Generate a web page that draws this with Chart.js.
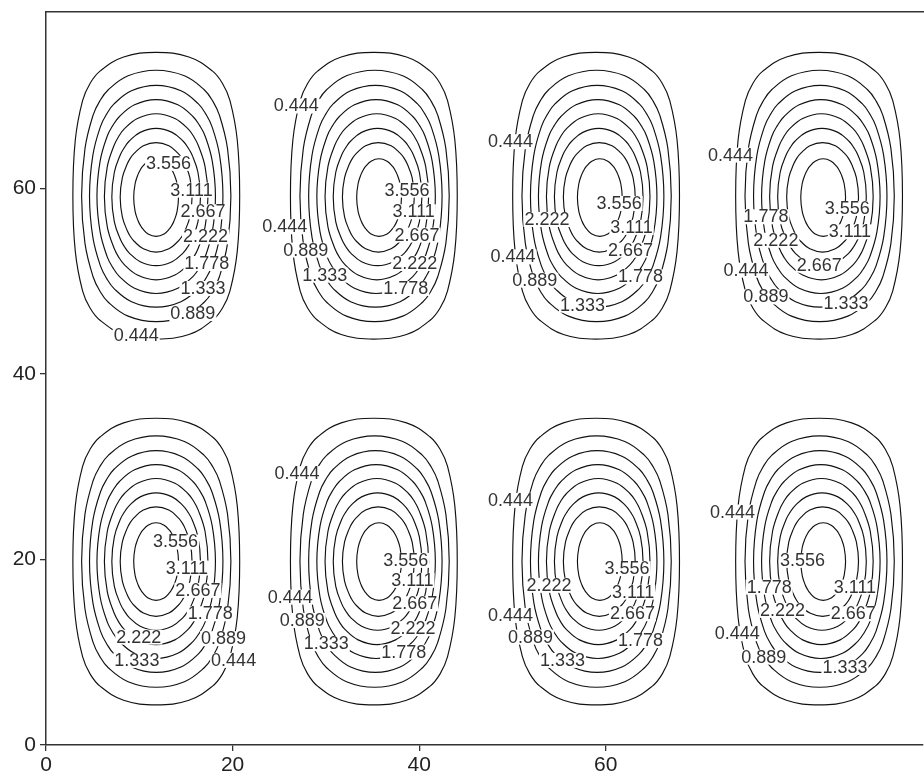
<!DOCTYPE html>
<html>
<head>
<meta charset="utf-8">
<script src="https://cdn.jsdelivr.net/npm/chart.js@4.4.1/dist/chart.umd.min.js"></script>
<style>
  html, body { margin: 0; padding: 0; background: #fff; }
  #wrap { width: 924px; height: 776px; }
</style>
</head>
<body>
<div id="wrap"><canvas id="contour" width="924" height="776"></canvas></div>
<script>
// one quadrant of each closed contour, as offsets from its centre: from (right, mid) to (mid, top)
const ring0444 = [[8.94, 0], [8.68, 6.0], [7.9, 10.25], [7.1, 12.1], [6.0, 13.45], [3.5, 14.95], [0, 15.45]]
const ring0889 = [[8.00, 0], [7.64, 5.11], [6.78, 8.68], [6.06, 10.22], [5.14, 11.45], [3.02, 12.95], [0, 13.55]]
const ring1333 = [[7.15, 0], [6.79, 4.43], [5.97, 7.53], [5.32, 8.85], [4.52, 9.95], [2.65, 11.36], [0, 11.95]]
const ring1778 = [[6.35, 0], [6.01, 3.82], [5.25, 6.50], [4.66, 7.64], [3.96, 8.60], [2.32, 9.89], [0, 10.45]]
const ring2222 = [[5.55, 0], [5.24, 3.24], [4.52, 5.52], [4.02, 6.50], [3.42, 7.31], [2.01, 8.44], [0, 8.95]]
const ring2667 = [[4.75, 0], [4.48, 2.67], [3.85, 4.53], [3.41, 5.33], [2.90, 6.01], [1.71, 6.97], [0, 7.40]]
const ring3111 = [[3.85, 0], [3.62, 2.11], [3.10, 3.58], [2.76, 4.22], [2.33, 4.76], [1.37, 5.55], [0, 5.90]]
const ring3556 = [[2.40, 0], [2.25, 1.49], [1.92, 2.53], [1.70, 2.97], [1.45, 3.35], [0.86, 3.92], [0, 4.18]]
const rings = [ring0444, ring0889, ring1333, ring1778, ring2222, ring2667, ring3111, ring3556]

// cell centres: outermost ring and innermost ring (the peak sits a little off centre)
const outerX = [11.82, 35.14, 58.96, 82.86]
const innerX = [11.8, 35.7, 59.36, 83.3]
const outerY = [19.77, 59.2]
const innerY = [19.77, 59.0]
// how far each ring's centre has moved from the outer centre toward the inner one
const ringShift = [0, 0.14, 0.29, 0.43, 0.57, 0.71, 0.86, 1]

const xTicks = [0, 20, 40, 60]
const yTicks = [0, 20, 40, 60]

// inline contour labels
const labelText = [
  // top row
  "3.556", "3.111", "2.667", "2.222", "1.778", "1.333", "0.889", "0.444",
  "0.444", "3.556", "3.111", "0.444", "2.667", "0.889", "2.222", "1.333", "1.778",
  "0.444", "3.556", "2.222", "3.111", "0.444", "2.667", "0.889", "1.778", "1.333",
  "0.444", "3.556", "1.778", "3.111", "2.222", "2.667", "0.444", "0.889", "1.333",
  // bottom row
  "3.556", "3.111", "2.667", "1.778", "2.222", "0.889", "1.333", "0.444",
  "0.444", "3.556", "3.111", "0.444", "2.667", "0.889", "2.222", "1.333", "1.778",
  "0.444", "3.556", "2.222", "3.111", "0.444", "2.667", "0.889", "1.778", "1.333",
  "0.444", "3.556", "1.778", "3.111", "2.222", "2.667", "0.444", "0.889", "1.333"
]
const labelX = [
  13.14, 15.60, 16.82, 17.10, 17.24, 16.82, 15.74, 9.67,
  26.83, 38.69, 39.41, 25.58, 39.76, 27.83, 39.52, 29.87, 38.55,
  49.78, 61.43, 53.70, 62.76, 50.06, 62.65, 52.39, 63.72, 57.50,
  73.37, 85.88, 77.16, 86.17, 78.23, 82.88, 75.03, 77.16, 85.74,
  13.89, 15.10, 16.28, 17.61, 9.95, 19.03, 9.74, 20.11,
  26.90, 38.55, 39.27, 26.19, 39.52, 27.47, 39.34, 30.05, 38.34,
  49.78, 62.28, 53.92, 62.93, 49.78, 62.86, 51.92, 63.72, 55.36,
  73.59, 81.09, 77.51, 86.70, 78.95, 86.52, 74.08, 76.94, 85.63
]
const labelY = [
  62.74, 59.86, 57.52, 54.82, 51.95, 49.26, 46.56, 44.22,
  68.92, 59.86, 57.52, 55.90, 55.01, 53.39, 51.95, 50.69, 49.26,
  65.07, 58.42, 56.69, 55.84, 52.66, 53.39, 50.15, 50.51, 47.46,
  63.63, 57.88, 56.98, 55.36, 54.45, 51.76, 51.23, 48.35, 47.64,
  21.93, 19.12, 16.72, 14.20, 11.68, 11.51, 9.17, 9.17,
  29.30, 19.95, 17.80, 15.99, 15.28, 13.48, 12.59, 10.97, 10.06,
  26.42, 19.06, 17.26, 16.53, 14.02, 14.20, 11.68, 11.32, 9.17,
  25.16, 19.95, 17.07, 17.07, 14.56, 14.20, 12.05, 9.52, 8.42
]

// mirror a quadrant into a full loop, right-mid -> top -> left -> bottom -> back
function fullLoop(q) {
  const n = q.length
  const pts = q.map(([x, y]) => [x, y])
  for (let i = n - 2; i >= 0; i--) pts.push([-q[i][0], q[i][1]])
  for (let i = 1; i < n; i++) pts.push([-q[i][0], -q[i][1]])
  for (let i = n - 2; i >= 1; i--) pts.push([q[i][0], -q[i][1]])
  return pts
}

const datasets = []
outerY.forEach((oy, r) => {
  outerX.forEach((ox, c) => {
    rings.forEach((q, k) => {
      const cx = ox + (innerX[c] - ox) * ringShift[k]
      const cy = oy + (innerY[r] - oy) * ringShift[k]
      const loop = fullLoop(q)
      // wrap one point on each side so the spline closes smoothly; the extra ends are hidden
      const seq = [loop[loop.length - 1], ...loop, loop[0], loop[1]]
      const last = seq.length - 1
      datasets.push({
        data: seq.map(([x, y]) => ({ x: cx + x, y: cy + y })),
        showLine: true,
        borderColor: "#111",
        borderWidth: 1.15,
        pointRadius: 0,
        tension: 0.4,
        segment: {
          borderColor: s => (s.p0DataIndex === 0 || s.p1DataIndex === last) ? "rgba(0,0,0,0)" : "#111"
        }
      })
    })
  })
})

const inlineLabels = {
  id: "inlineLabels",
  afterDatasetsDraw(chart) {
    const { ctx, scales: { x, y } } = chart
    ctx.save()
    ctx.font = '18px "Liberation Sans", Arial, sans-serif'
    ctx.textAlign = "center"
    ctx.textBaseline = "middle"
    labelText.forEach((t, i) => {
      const px = x.getPixelForValue(labelX[i])
      const py = y.getPixelForValue(labelY[i])
      const w = ctx.measureText(t).width
      ctx.fillStyle = "#fff"
      ctx.fillRect(px - w / 2 - 1, py - 7, w + 2, 15)
      ctx.fillStyle = "#333"
      ctx.fillText(t, px, py + 1)
    })
    ctx.restore()
  }
}

const tickFont = { family: '"Liberation Sans", Arial, sans-serif', size: 21 }

new Chart(document.getElementById("contour"), {
  type: "scatter",
  data: { datasets },
  options: {
    responsive: false,
    animation: false,
    devicePixelRatio: 1,
    layout: { padding: { top: 12, right: 1, left: 0, bottom: 0 } },
    plugins: { legend: { display: false }, tooltip: { enabled: false } },
    scales: {
      x: {
        type: "linear", position: "bottom", min: 0, max: 94,
        afterBuildTicks: s => { s.ticks = xTicks.map(v => ({ value: v })) },
        afterFit: s => { s.height = 31; s.paddingLeft = 0; s.paddingRight = 0 },
        ticks: { font: tickFont, color: "#222", padding: 2, maxRotation: 0 },
        grid: { drawOnChartArea: false, tickLength: 6, color: "#333", lineWidth: 1.3 },
        border: { display: true, color: "#333", width: 1.5 }
      },
      top: {
        type: "linear", position: "top", min: 0, max: 94,
        afterFit: s => { s.height = 0; s.paddingLeft = 0; s.paddingRight = 0 },
        ticks: { display: false },
        grid: { display: false },
        border: { display: true, color: "#333", width: 1.5 }
      },
      y: {
        type: "linear", position: "left", min: 0, max: 79,
        afterBuildTicks: s => { s.ticks = yTicks.map(v => ({ value: v })) },
        afterFit: s => { s.width = 46; s.paddingTop = 0; s.paddingBottom = 0 },
        ticks: { font: tickFont, color: "#222", padding: 4 },
        grid: { drawOnChartArea: false, tickLength: 6, color: "#333", lineWidth: 1.3 },
        border: { display: true, color: "#333", width: 1.5 }
      }
    }
  },
  plugins: [inlineLabels]
})
</script>
</body>
</html>
